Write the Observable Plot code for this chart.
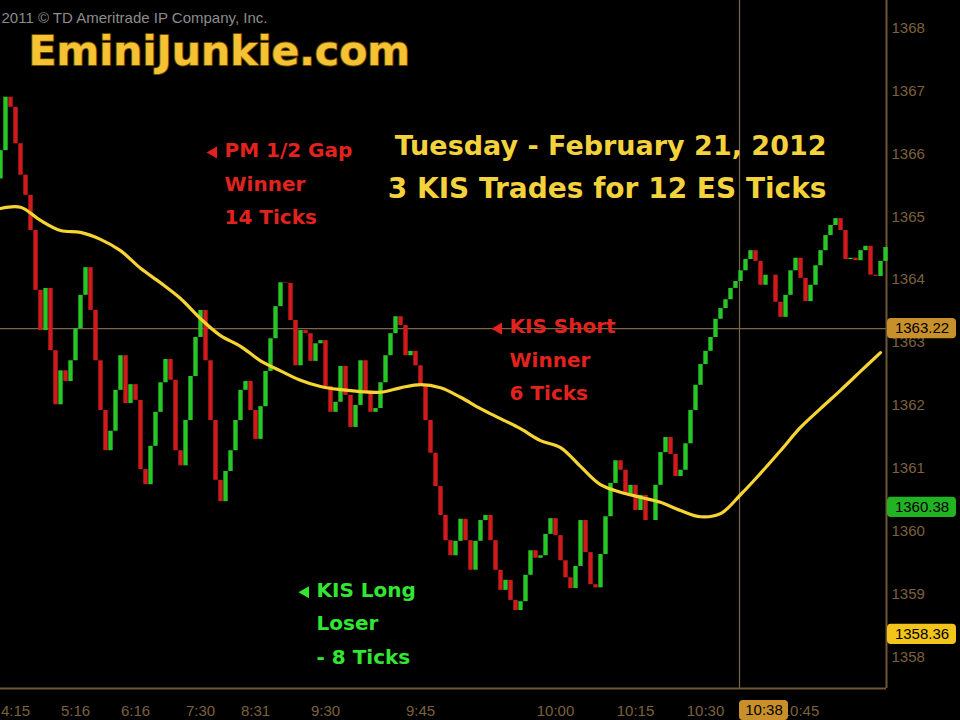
<!DOCTYPE html>
<html><head><meta charset="utf-8">
<script src="https://cdn.jsdelivr.net/npm/d3@7"></script>
<script src="https://cdn.jsdelivr.net/npm/@observablehq/plot@0.6"></script>
<style>
html,body{margin:0;padding:0;background:#000;}
#chart{width:960px;height:720px;overflow:hidden;background:#000;}
</style></head><body><div id="chart"></div>
<script>
// ---- data ----
const firstOpen = 1365.60;
const closes = [
 1366.05, 1366.90, 1366.74, 1366.16, 1365.66, 1365.34, 1364.78, 1363.83, 1363.19, 1363.86,
 1362.87, 1362.01, 1362.55, 1362.38, 1362.71, 1363.22, 1363.75, 1364.19, 1363.51, 1362.71,
 1361.92, 1361.28, 1361.59, 1362.24, 1362.79, 1362.03, 1362.33, 1362.08, 1360.98, 1360.74,
 1361.35, 1361.89, 1362.36, 1362.73, 1362.40, 1361.28, 1361.04, 1361.76, 1362.46, 1363.08,
 1363.51, 1362.71, 1361.76, 1360.81, 1360.47, 1360.95, 1361.28, 1361.76, 1362.24, 1362.38,
 1361.92, 1361.46, 1361.98, 1362.54, 1363.06, 1363.57, 1363.95, 1363.94, 1363.35, 1362.63,
 1363.19, 1363.14, 1362.70, 1362.98, 1363.03, 1362.30, 1361.89, 1362.05, 1362.62, 1362.16,
 1361.65, 1362.00, 1362.71, 1362.22, 1361.89, 1361.95, 1362.36, 1362.79, 1363.14, 1363.41,
 1363.27, 1362.79, 1362.86, 1362.63, 1362.33, 1361.76, 1361.24, 1360.71, 1360.25, 1359.85,
 1359.61, 1359.84, 1360.19, 1359.85, 1359.38, 1359.84, 1360.17, 1360.25, 1359.85, 1359.38,
 1359.06, 1359.22, 1358.90, 1358.74, 1358.88, 1359.30, 1359.69, 1359.57, 1359.61, 1359.95,
 1360.20, 1359.93, 1359.53, 1359.26, 1359.09, 1359.44, 1360.17, 1359.66, 1359.15, 1359.10,
 1359.63, 1360.23, 1360.76, 1361.12, 1360.97, 1360.57, 1360.73, 1360.33, 1360.57, 1360.17,
 1360.17, 1360.73, 1361.25, 1361.49, 1361.22, 1360.87, 1360.97, 1361.39, 1361.92, 1362.32,
 1362.65, 1362.86, 1363.08, 1363.37, 1363.54, 1363.68, 1363.86, 1363.97, 1364.14, 1364.32,
 1364.46, 1364.29, 1363.91, 1364.07, 1364.07, 1363.64, 1363.40, 1363.75, 1364.14, 1364.34,
 1364.02, 1363.65, 1363.91, 1364.22, 1364.46, 1364.70, 1364.86, 1364.97, 1364.78, 1364.32,
 1364.34, 1364.30, 1364.46, 1364.53, 1364.07, 1364.05, 1364.29, 1364.51
];
const maEvery = 4; // moving average sampled every 4 bars
const maValues = [
 1365.13, 1365.15, 1364.94, 1364.78, 1364.75, 1364.64, 1364.46, 1364.18, 1363.95, 1363.70,
 1363.38, 1363.11, 1362.94, 1362.71, 1362.55, 1362.40, 1362.30, 1362.25, 1362.22, 1362.21,
 1362.28, 1362.33, 1362.28, 1362.13, 1361.95, 1361.79, 1361.63, 1361.44, 1361.33, 1361.03,
 1360.74, 1360.62, 1360.54, 1360.46, 1360.33, 1360.23, 1360.28, 1360.58, 1360.92, 1361.28,
 1361.65, 1361.95, 1362.24, 1362.54, 1362.84
];
const priceTicks = [1358, 1359, 1360, 1361, 1362, 1363, 1364, 1365, 1366, 1367, 1368];
const timeTickBars = [3, 15, 27, 40, 51, 65, 84, 111, 127, 141, 160];
const timeTickLabels = ["4:15", "5:16", "6:16", "7:30", "8:31", "9:30", "9:45", "10:00", "10:15", "10:30", "10:45"];
const cursorBar = 147.8;
const cursorTime = "10:38";
const cursorPrice = 1363.22;
const markerPrices = [1363.22, 1360.38, 1358.36];
const markerLabels = ["1363.22", "1360.38", "1358.36"];
const markerFills = ["#c8902a", "#22b322", "#f2c41c"];
const titleLines = ["Tuesday - February 21, 2012", "3 KIS Trades for 12 ES Ticks"];
const brand = "EminiJunkie.com";
const copyright = "2011 © TD Ameritrade IP Company, Inc.";
const noteBars = [42.6, 99.6, 61.0];
const notePrices = [1366.02, 1363.22, 1359.03];
const noteColors = ["#e2231d", "#e2231d", "#33e633"];
const noteTexts = [["PM 1/2 Gap", "Winner", "14 Ticks"], ["KIS Short", "Winner", "6 Ticks"], ["KIS Long", "Loser", "- 8 Ticks"]];

// ---- build tables ----
const yDomain = [1357.5, 1368.437];
const xDomain = [0, 177.2];
const pxPerPoint = 62.9;
const lineStep = 33.5 / pxPerPoint;
const red = "#cf1b1b", green = "#26c726";
const bars = closes.map((c, i) => ({i, open: i === 0 ? firstOpen : closes[i - 1], close: c}));
const ma = maValues.map((v, k) => ({bar: k * maEvery, v}));
const notes = noteBars.map((b, j) => ({bar: b, price: notePrices[j], color: noteColors[j]}));
const noteLines = notes.flatMap((n, j) => noteTexts[j].map((t, k) => ({bar: n.bar, price: n.price - k * lineStep + 0.03, text: t, color: n.color})));
const markers = markerPrices.map((p, j) => ({price: p, label: markerLabels[j], fill: markerFills[j]}));
const frameColor = "#6e5637";
const cursorColor = "#7d6646";
const bold = "DejaVu Sans, Verdana, sans-serif";

const chart = Plot.plot({
  width: 960, height: 720,
  marginLeft: 0, marginRight: 74, marginTop: 0, marginBottom: 32,
  style: {background: "#000", color: "#7c613d", fontFamily: "Liberation Sans, Arial, sans-serif", fontSize: "15px"},
  x: {domain: xDomain, ticks: timeTickBars, tickFormat: d => timeTickLabels[timeTickBars.indexOf(d)], tickSize: 0, tickPadding: 17, label: null},
  y: {domain: yDomain, ticks: priceTicks, tickFormat: d => String(d), tickSize: 0, tickPadding: 5, axis: "right", label: null},
  marks: [
    Plot.ruleY([cursorPrice], {stroke: cursorColor, strokeWidth: 1.2}),
    Plot.ruleX([cursorBar], {stroke: cursorColor, strokeWidth: 1.2}),
    Plot.ruleX([xDomain[1]], {y1: yDomain[0], y2: yDomain[1], stroke: frameColor, strokeWidth: 2}),
    Plot.ruleY([yDomain[0]], {x1: xDomain[0], x2: xDomain[1], stroke: frameColor, strokeWidth: 2}),
    Plot.ruleX(bars, {x: "i", y1: "open", y2: "close", stroke: d => d.close >= d.open ? green : red, strokeWidth: 4.4}),
    Plot.line(ma, {x: "bar", y: "v", stroke: "#f6d432", strokeWidth: 3.2, curve: "catmull-rom"}),
    // top texts
    Plot.text([copyright], {frameAnchor: "top-left", dx: 1, dy: 12, textAnchor: "start", fill: "#8c8c8c", fontSize: 15}),
    Plot.text([brand], {frameAnchor: "top-left", dx: 28, dy: 35, textAnchor: "start", fill: "#f5c234", stroke: "#6a4800", strokeWidth: 2, fontSize: 41, fontWeight: "bold", fontFamily: bold}),
    Plot.text([titleLines[0]], {frameAnchor: "top-left", dx: 826, dy: 135, textAnchor: "end", fill: "#f4d23c", fontSize: 27, fontWeight: "bold", fontFamily: bold}),
    Plot.text([titleLines[1]], {frameAnchor: "top-left", dx: 826, dy: 178, textAnchor: "end", fill: "#f4d23c", fontSize: 28, fontWeight: "bold", fontFamily: bold}),
    // trade notes
    Plot.dot(notes, {x: "bar", y: "price", symbol: "triangle", r: 4.5, fill: "color", rotate: -90}),
    Plot.text(noteLines, {x: "bar", y: "price", text: "text", fill: "color", textAnchor: "start", dx: 11, fontSize: 20, fontWeight: "bold", fontFamily: bold}),
    // price markers
    Plot.rect(markers, {x1: 177.4, x2: 191.2, y1: d => d.price - 0.16, y2: d => d.price + 0.16, fill: "fill", rx: 4}),
    Plot.text(markers, {x: 184.3, y: "price", text: "label", fill: "#000", fontSize: 15}),
    // cursor time box
    Plot.rect([cursorTime], {x1: cursorBar, x2: cursorBar + 9.8, y1: 1356.99, y2: 1357.31, fill: "#c8902a", rx: 4}),
    Plot.text([cursorTime], {x: cursorBar + 4.9, y: 1357.15, text: d => d, fill: "#000", fontSize: 15})
  ]
});
document.getElementById("chart").appendChild(chart);
</script>
</body></html>
